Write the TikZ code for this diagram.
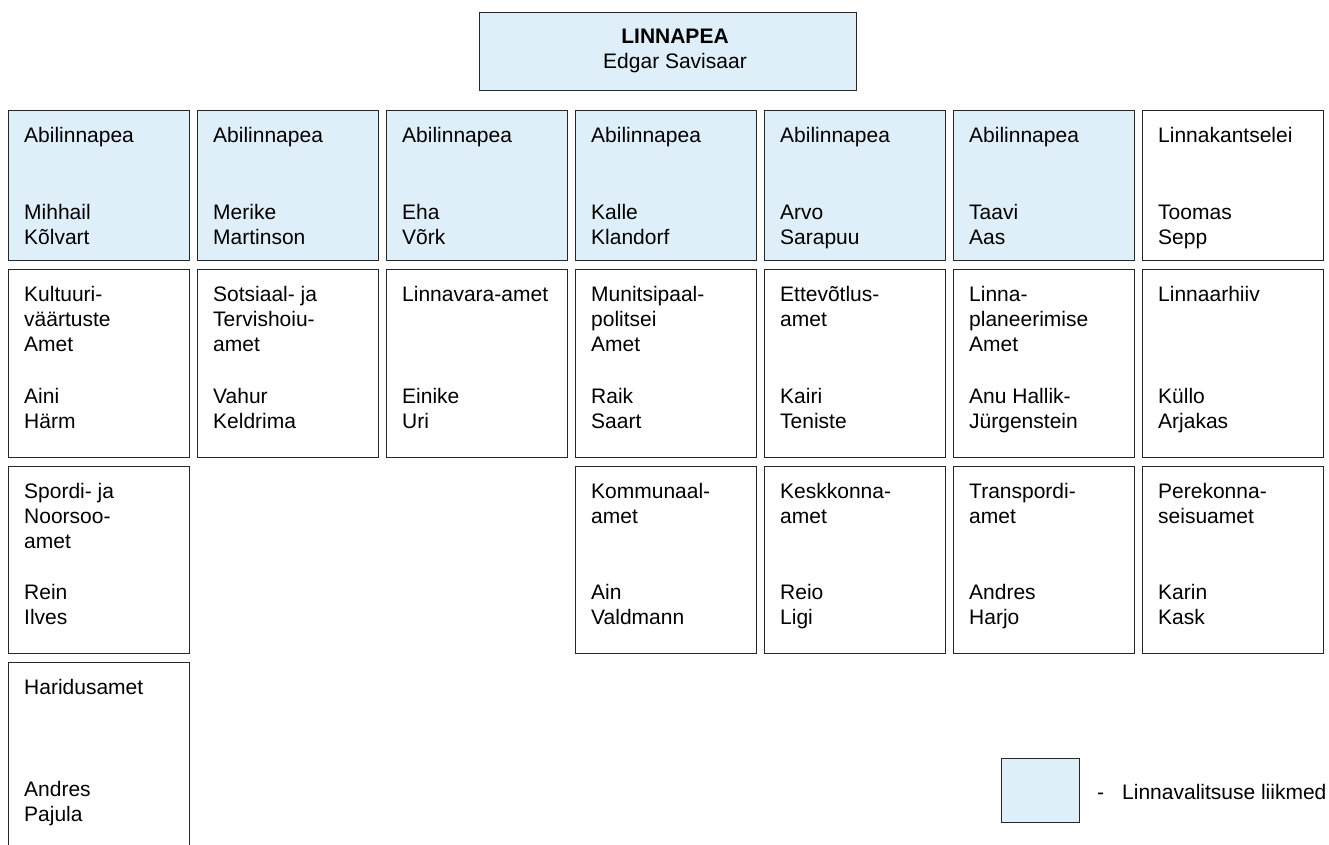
\documentclass[tikz,border=0pt]{standalone}
\usepackage{fontspec}
\setmainfont{Liberation Sans}
\usepackage{tikz}
\usetikzlibrary{positioning}
\definecolor{valitsus}{RGB}{222,239,250}
\tikzset{
   ametframe/.style={draw=black!85, line width=1.4pt, inner sep=0pt, anchor=north west,
                     minimum width=181pt, fill=white},
   ametlabel/.style={anchor=base west, inner sep=0pt,
                     font=\fontsize{21}{25}\selectfont},
   juhtlabel/.style={ametlabel, anchor=base}
}
% lines hang from the baseline of the first one
\newcommand{\ridad}[2][l]{\parbox[t]{180pt}{\ifx#1c\centering\else\raggedright\fi #2}}
% #1 name, #2 x, #3 y, #4 height, #5 fill, #6 unit, #7 offset of the head, #8 head
\newcommand{\ametbox}[8]{%
  \node[ametframe, fill=#5, minimum height=#4pt] (#1) at (#2,#3) {};
  \node[ametlabel] (#1-nimi) at ([xshift=16pt,yshift=-32pt]#1.north west) {\ridad{#6}};
  \node[ametlabel] (#1-juht) at ([xshift=16pt,yshift=-#7pt]#1.north west) {\ridad{#8}};
}

\begin{document}
\begin{tikzpicture}[x=1pt,y=-1pt]
  \clip (0,0) rectangle (1329,844);
  \node[ametframe, fill=valitsus, minimum width=377pt, minimum height=78pt] (lp) at (479,12) {};
  \node[juhtlabel] (lp-nimi) at (675,43) {\ridad[c]{\textbf{LINNAPEA}\\Edgar Savisaar}};

  \ametbox{a1}{8}{110}{150}{valitsus}{Abilinnapea}{109}{Mihhail\\Kõlvart}
  \ametbox{a2}{197}{110}{150}{valitsus}{Abilinnapea}{109}{Merike\\Martinson}
  \ametbox{a3}{386}{110}{150}{valitsus}{Abilinnapea}{109}{Eha\\Võrk}
  \ametbox{a4}{575}{110}{150}{valitsus}{Abilinnapea}{109}{Kalle\\Klandorf}
  \ametbox{a5}{764}{110}{150}{valitsus}{Abilinnapea}{109}{Arvo\\Sarapuu}
  \ametbox{a6}{953}{110}{150}{valitsus}{Abilinnapea}{109}{Taavi\\Aas}
  \ametbox{a7}{1142}{110}{150}{white}{Linnakantselei}{109}{Toomas\\Sepp}

  \ametbox{b1}{8}{269}{188}{white}{Kultuuri-\\väärtuste\\Amet}{134}{Aini\\Härm}
  \ametbox{b2}{197}{269}{188}{white}{Sotsiaal- ja\\Tervishoiu-\\amet}{134}{Vahur\\Keldrima}
  \ametbox{b3}{386}{269}{188}{white}{Linnavara-amet}{134}{Einike\\Uri}
  \ametbox{b4}{575}{269}{188}{white}{Munitsipaal-\\politsei\\Amet}{134}{Raik\\Saart}
  \ametbox{b5}{764}{269}{188}{white}{Ettevõtlus-\\amet}{134}{Kairi\\Teniste}
  \ametbox{b6}{953}{269}{188}{white}{Linna-\\planeerimise\\Amet}{134}{Anu Hallik-\\Jürgenstein}
  \ametbox{b7}{1142}{269}{188}{white}{Linnaarhiiv}{134}{Küllo\\Arjakas}

  \ametbox{c1}{8}{466}{187}{white}{Spordi- ja\\Noorsoo-\\amet}{133}{Rein\\Ilves}
  \ametbox{c4}{575}{466}{187}{white}{Kommunaal-\\amet}{133}{Ain\\Valdmann}
  \ametbox{c5}{764}{466}{187}{white}{Keskkonna-\\amet}{133}{Reio\\Ligi}
  \ametbox{c6}{953}{466}{187}{white}{Transpordi-\\amet}{133}{Andres\\Harjo}
  \ametbox{c7}{1142}{466}{187}{white}{Perekonna-\\seisuamet}{133}{Karin\\Kask}

  \ametbox{d1}{8}{662}{200}{white}{Haridusamet}{134}{Andres\\Pajula}

  \node[ametframe, fill=valitsus, minimum width=78pt, minimum height=64pt] (legend) at (1001,758) {};
  \node[ametlabel] (legend-text) at (1097,799) {-\hspace{18pt}Linnavalitsuse liikmed};
\end{tikzpicture}
\end{document}
